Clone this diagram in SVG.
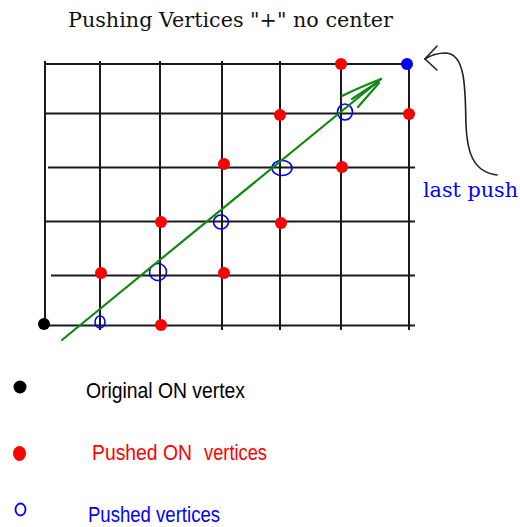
<svg xmlns="http://www.w3.org/2000/svg" width="520" height="527" viewBox="0 0 520 527">
<style>
.grid line{stroke:#1a1a1a;stroke-width:2;}
.red{fill:#ff0000;}
.blue{fill:none;stroke:#0000ff;stroke-width:1.6;}
.green{stroke:#118811;stroke-width:2.2;fill:none;stroke-linecap:round;}
.serif{font-family:"DejaVu Serif","Liberation Serif",serif;}
.sans{font-family:"Liberation Sans",Arial,sans-serif;font-size:21.5px;}
</style>
<rect width="520" height="527" fill="#ffffff"/>
<text id="title" class="serif" x="68" y="27" font-size="20" textLength="325" lengthAdjust="spacingAndGlyphs" fill="#111">Pushing Vertices "+" no center</text>
<g id="grid" class="grid">
<line x1="45" y1="64" x2="410" y2="64"/>
<line x1="45" y1="113.5" x2="415" y2="113.5"/>
<line x1="48" y1="167.5" x2="415" y2="167.5"/>
<line x1="45" y1="221.5" x2="415" y2="221.5"/>
<line x1="51" y1="275.5" x2="415" y2="275.5"/>
<line x1="45" y1="325.5" x2="415" y2="325.5"/>
<line x1="45" y1="61" x2="45" y2="325"/>
<line x1="100" y1="61" x2="100" y2="330"/>
<line x1="160" y1="61" x2="160" y2="330"/>
<line x1="222" y1="61" x2="222" y2="330"/>
<line x1="280" y1="61" x2="280" y2="330"/>
<line x1="341" y1="61" x2="341" y2="330"/>
<line x1="409" y1="62" x2="409" y2="330"/>
</g>
<g id="pushed-on-vertices">
<circle class="red" cx="341" cy="64" r="6"/>
<circle class="red" cx="409" cy="114" r="6"/>
<circle class="red" cx="280" cy="115" r="6"/>
<circle class="red" cx="224" cy="164" r="6"/>
<circle class="red" cx="342" cy="167" r="6"/>
<circle class="red" cx="161" cy="222" r="6"/>
<circle class="red" cx="281" cy="223" r="6"/>
<circle class="red" cx="101" cy="273" r="6"/>
<circle class="red" cx="224" cy="273" r="6"/>
<circle class="red" cx="161" cy="325" r="6"/>
</g>
<g id="original-vertex">
<circle cx="44" cy="324" r="6" fill="#000"/>
</g>
<g id="last-push-vertex">
<circle cx="407" cy="64" r="6" fill="#0000ff"/>
</g>
<g id="pushed-vertices">
<ellipse class="blue" cx="100" cy="322" rx="5" ry="6"/>
<ellipse class="blue" cx="158" cy="272" rx="8.5" ry="8.5"/>
<ellipse class="blue" cx="221" cy="222" rx="7.5" ry="7"/>
<ellipse class="blue" cx="282" cy="168" rx="10" ry="7.5"/>
<ellipse class="blue" cx="345" cy="112" rx="7.5" ry="8"/>
</g>
<g id="connectors">
<g id="push-direction" class="green">
<line x1="62" y1="340" x2="381" y2="79"/>
<path d="M342,96 Q358,88 381,79"/>
<path d="M352,99 L378,82"/>
<path d="M358,107 L379,83"/>
</g>
<g id="last-push-arrow" fill="none" stroke="#222" stroke-width="1.6" stroke-linecap="round">
<path d="M497,175 C472,172 467,150 466,125 C465,95 467,54 446,53 C437,53 431,55 425,59"/>
<path d="M437,46 L425,59 L437,70"/>
</g>
</g>
<text id="last-push-label" class="serif" x="423" y="197" font-size="20" textLength="95" lengthAdjust="spacingAndGlyphs" fill="#0000ff">last push</text>
<g id="legend">
<circle cx="20" cy="387" r="6.5" fill="#000"/>
<text class="sans" x="86" y="398" textLength="159" lengthAdjust="spacingAndGlyphs" fill="#000">Original ON vertex</text>
<ellipse cx="19.5" cy="453.5" rx="6.5" ry="7.5" fill="#ff0000"/>
<text class="sans" x="92" y="460" fill="#ff0000"><tspan textLength="100" lengthAdjust="spacingAndGlyphs">Pushed ON</tspan><tspan x="204" textLength="63" lengthAdjust="spacingAndGlyphs">vertices</tspan></text>
<ellipse cx="20.5" cy="509.5" rx="5" ry="6" fill="none" stroke="#0000ff" stroke-width="1.8"/>
<text class="sans" x="88" y="521.5" textLength="132" lengthAdjust="spacingAndGlyphs" fill="#0000ff">Pushed vertices</text>
</g>
</svg>
